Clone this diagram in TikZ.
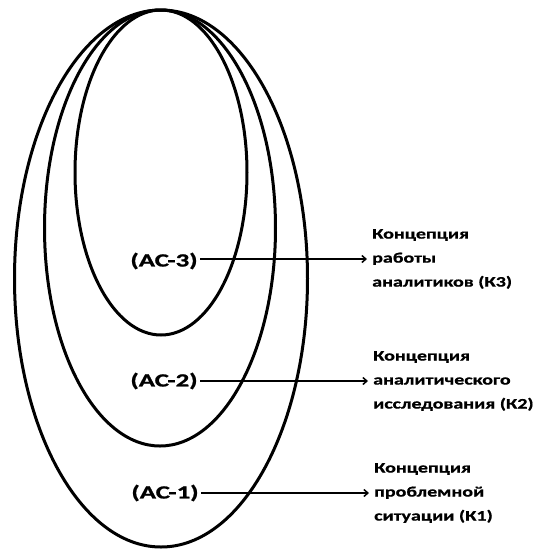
\documentclass[tikz,border=0pt]{standalone}
\usepackage{fontspec}
\setmainfont{Carlito}
\newfontfamily\acfont{Carlito}[FakeStretch=1.45, BoldFeatures={FakeBold=1.2}]
\newfontfamily\kfont{Carlito}[FakeStretch=1.38, BoldFeatures={FakeBold=0.8}]
\usetikzlibrary{arrows.meta}
\tikzset{
  ring/.style={line width=3pt},
  aclabel/.style={font=\acfont\bfseries\fontsize{18.5}{22}\selectfont, inner sep=2.5pt},
  concept/.style={font=\kfont\bfseries\fontsize{14.5}{24}\selectfont, align=left, anchor=west, inner sep=5pt},
  link/.style={line width=1.5pt, -{Straight Barb[length=4pt,width=7pt]}}
}
\begin{document}
\begin{tikzpicture}[x=1pt,y=-1pt]
\useasboundingbox (0,0) rectangle (542,550);
\fill[white] (0,0) rectangle (542,550);
\draw[ring] (161,278.5) ellipse [x radius=146.5, y radius=268.5];
\draw[ring] (160,228) ellipse [x radius=115.5, y radius=218];
\draw[ring] (161,172.5) ellipse [x radius=86, y radius=162.5];

\node[aclabel] (a3) at (164,261) {(AC-3)};
\node[aclabel] (a2) at (164,381) {(AC-2)};
\node[aclabel] (a1) at (165,493) {(AC-1)};

\node[concept] (k3) at (367,259) {Концепция\\работы\\аналитиков (К3)};
\node[concept] (k2) at (368,381) {Концепция\\аналитического\\исследования (К2)};
\node[concept] (k1) at (369,493) {Концепция\\проблемной\\ситуации (К1)};

\draw[link] (a3.east |- k3.west) -- (k3.west);
\draw[link] (a2.east |- k2.west) -- (k2.west);
\draw[link] (a1.east |- k1.west) -- (k1.west);
\end{tikzpicture}
\end{document}
